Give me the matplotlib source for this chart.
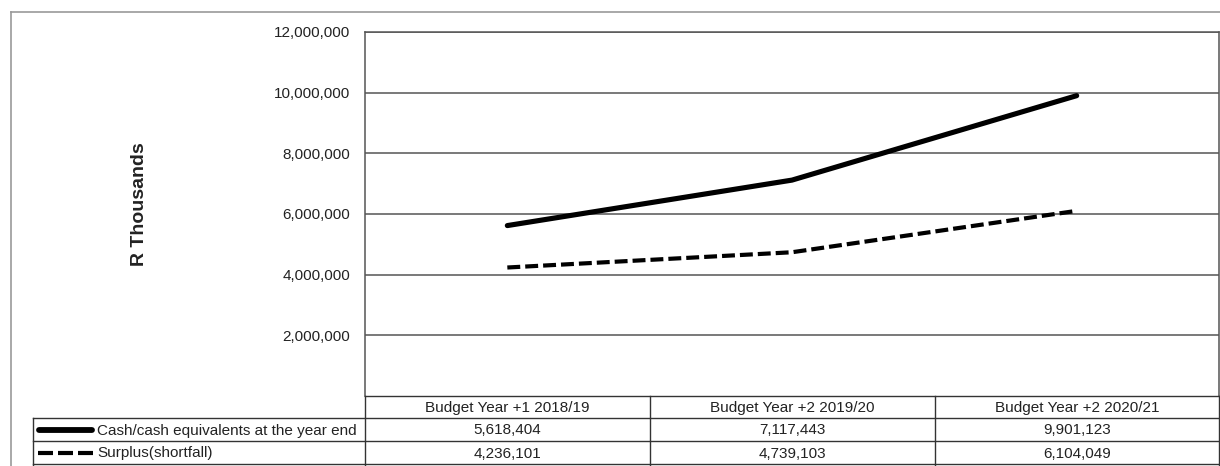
import matplotlib.pyplot as plt

plt.rcParams["font.family"] = ["Liberation Sans", "DejaVu Sans"]

years = ["Budget Year +1 2018/19", "Budget Year +2 2019/20", "Budget Year +2 2020/21"]
series_names = ["Cash/cash equivalents at the year end", "Surplus(shortfall)"]
cash = [5618404, 7117443, 9901123]
surplus = [4236101, 4739103, 6104049]
y_ticks = [2000000, 4000000, 6000000, 8000000, 10000000, 12000000]

W, H = 1220, 466
fig = plt.figure(figsize=(W / 100, H / 100), dpi=100)

# pixel-based helpers for placing things on the figure
def fx(px):
    return px / W

def fy(py):
    return 1 - py / H

SOLID = dict(color="black", lw=3.7, solid_capstyle="round")
DASHED = dict(color="black", lw=3.0, ls=(0, (3.1, 1.2)))

plot_l, plot_r, plot_t, plot_b = 365, 1219, 32, 396
ax = fig.add_axes([fx(plot_l), fy(plot_b), fx(plot_r - plot_l), fy(plot_t) - fy(plot_b)])

x = range(len(years))
ax.plot(x, cash, zorder=3, **SOLID)
ax.plot(x, surplus, zorder=3, **DASHED)

ax.set_xlim(-0.5, len(years) - 0.5)
ax.set_ylim(0, 12000000)
ax.set_yticks(y_ticks)
ax.set_yticklabels([f"{v:,}" for v in y_ticks], fontsize=11, color="#222222")
ax.tick_params(axis="y", length=0, pad=10.5)
ax.set_xticks([])
ax.grid(axis="y", color="#555555", lw=1.1)
for side in ["left", "top", "right"]:
    ax.spines[side].set_color("#555555")
    ax.spines[side].set_linewidth(1.1)
ax.spines["bottom"].set_visible(False)

fig.text(fx(140), fy(204), "R Thousands", rotation=90, ha="center", va="center",
         fontsize=14, fontweight="bold", color="#222222")

# data table under the plot
ov = fig.add_axes([0, 0, 1, 1], zorder=5)
ov.set_xlim(0, W)
ov.set_ylim(H, 0)
ov.axis("off")
ov.patch.set_alpha(0)

line_kw = dict(color="#333333", lw=1.0)
col_edges = [plot_l, 650, 935, plot_r]
row_edges = [plot_b, 418, 441, 464]
leg_l = 33

ov.plot([plot_l, plot_r], [row_edges[0]] * 2, **line_kw)
for r in row_edges[1:]:
    ov.plot([leg_l, plot_r], [r, r], **line_kw)
for c in col_edges:
    ov.plot([c, c], [row_edges[0], row_edges[-1] + 2], **line_kw)
ov.plot([leg_l, leg_l], [row_edges[1], row_edges[-1] + 2], **line_kw)

for i, label in enumerate(years):
    cx = (col_edges[i] + col_edges[i + 1]) / 2
    ov.text(cx, (row_edges[0] + row_edges[1]) / 2 + 1, label, ha="center", va="center",
            fontsize=11, color="#222222")
    for j, vals in enumerate([cash, surplus]):
        cy = (row_edges[j + 1] + row_edges[j + 2]) / 2 + 1
        ov.text(cx, cy, f"{vals[i]:,}", ha="center", va="center", fontsize=11, color="#222222")

# legend keys inside the first column
ov.plot([39, 92], [429.5, 429.5], color="black", lw=4.2, solid_capstyle="round")
ov.plot([38, 93], [452.5, 452.5], color="black", lw=3.0, ls=(0, (3.6, 1.2)))
for j, name in enumerate(series_names):
    cy = (row_edges[j + 1] + row_edges[j + 2]) / 2 + 1
    ov.text(97, cy, name, ha="left", va="center", fontsize=11, color="#222222")

# outer chart border
ov.plot([11, 11], [12, H], color="#999999", lw=1.2)
ov.plot([11, W], [12, 12], color="#999999", lw=1.2)

fig.savefig("out.png", dpi=100)
